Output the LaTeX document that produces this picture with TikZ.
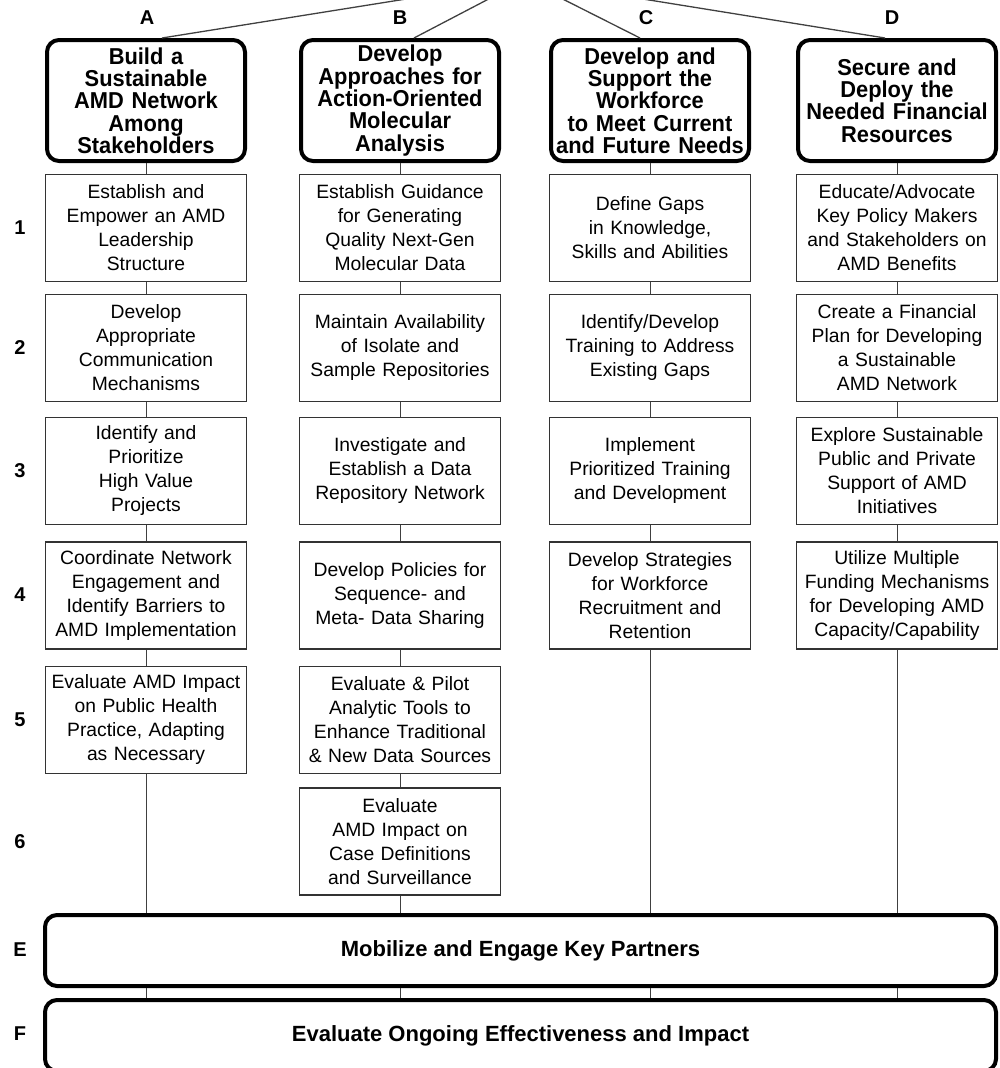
\documentclass[tikz,border=0pt]{standalone}
\usepackage{fontspec}
\setmainfont{Liberation Sans}
\newfontfamily\headfont{Liberation Sans}[FakeStretch=0.95]
\begin{document}
\begin{tikzpicture}[
		x=1pt, y=-1pt,   % <-- pixel grid, y runs downwards
		goal/.style={draw, rounded corners=12pt, line width=4pt, minimum width=198pt, minimum height=121pt, text width=197pt, align=center, inner sep=0.5pt, font=\headfont\bfseries\fontsize{23}{22.3}\selectfont},
		task/.style={draw=black!80, line width=1.2pt, minimum width=201pt, minimum height=107pt, text width=196pt, align=center, inner sep=2pt, font=\fontsize{19.3}{24}\selectfont},
		band/.style={draw, rounded corners=12pt, line width=4pt, minimum width=951pt, minimum height=71pt, font=\bfseries\fontsize{22}{22}\selectfont},
		tag/.style={font=\bfseries\fontsize{20}{20}\selectfont},
		link/.style={draw=black!75, line width=1pt}
		]
		
		\useasboundingbox (0,0) rectangle (999,1068);
		\clip (0,0) rectangle (999,1068);
		
		\coordinate (top) at (525,-20);
		
		\node[tag] (lA) at (147,18) {A};
		\node[tag] (lB) at (400,18) {B};
		\node[tag] (lC) at (646,18) {C};
		\node[tag] (lD) at (892,18) {D};
		
		\node[tag] (n1) at (20,228) {1};
		\node[tag] (n2) at (20,348) {2};
		\node[tag] (n3) at (20,471) {3};
		\node[tag] (n4) at (20,595) {4};
		\node[tag] (n5) at (20,720) {5};
		\node[tag] (n6) at (20,842) {6};
		\node[tag] (nE) at (20,950) {E};
		\node[tag] (nF) at (20,1034) {F};
		
		\node[goal] (hA) at (146,100.5) {Build a\\Sustainable\\AMD Network\\Among\\Stakeholders};
		\node[goal] (hB) at (400,100.5) {Develop\\Approaches for\\Action-Oriented\\Molecular\\Analysis};
		\node[goal] (hC) at (650,100.5) {Develop and\\Support the\\Workforce\\to Meet Current\\and Future Needs};
		\node[goal] (hD) at (897,100.5) {Secure and\\Deploy the\\Needed Financial\\Resources};
		
		\node[task] (a1) at (146,228) {Establish and\\Empower an AMD\\Leadership\\Structure};
		\node[task] (a2) at (146,348) {Develop\\Appropriate\\Communication\\Mechanisms};
		\node[task] (a3) at (146,471) {Identify and\\Prioritize\\High Value\\Projects};
		\node[task] (a4) at (146,595.5) {Coordinate Network\\Engagement and\\Identify Barriers to\\AMD Implementation};
		\node[task] (a5) at (146,720) {Evaluate AMD Impact\\on Public Health\\Practice, Adapting\\as Necessary};
		
		\node[task] (b1) at (400,228) {Establish Guidance\\for Generating\\Quality Next-Gen\\Molecular Data};
		\node[task] (b2) at (400,348) {Maintain Availability\\of Isolate and\\Sample Repositories};
		\node[task] (b3) at (400,471) {Investigate and\\Establish a Data\\Repository Network};
		\node[task] (b4) at (400,595.5) {Develop Policies for\\Sequence- and\\Meta- Data Sharing};
		\node[task] (b5) at (400,720) {Evaluate \& Pilot\\Analytic Tools to\\Enhance Traditional\\\& New Data Sources};
		\node[task] (b6) at (400,841.5) {Evaluate\\AMD Impact on\\Case Definitions\\and Surveillance};
		
		\node[task] (c1) at (650,228) {Define Gaps\\in Knowledge,\\Skills and Abilities};
		\node[task] (c2) at (650,348) {Identify/Develop\\Training to Address\\Existing Gaps};
		\node[task] (c3) at (650,471) {Implement\\Prioritized Training\\and Development};
		\node[task] (c4) at (650,595.5) {Develop Strategies\\for Workforce\\Recruitment and\\Retention};
		
		\node[task] (d1) at (897,228) {Educate/Advocate\\Key Policy Makers\\and Stakeholders on\\AMD Benefits};
		\node[task] (d2) at (897,348) {Create a Financial\\Plan for Developing\\a Sustainable\\AMD Network};
		\node[task] (d3) at (897,471) {Explore Sustainable\\Public and Private\\Support of AMD\\Initiatives};
		\node[task] (d4) at (897,595.5) {Utilize Multiple\\Funding Mechanisms\\for Developing AMD\\Capacity/Capability};
		
		\node[band] (bE) at (520.5,950.5) {Mobilize and Engage Key Partners};
		\node[band] (bF) at (520.5,1035.5) {Evaluate Ongoing Effectiveness and Impact};
		
		\draw[link, line width=1.3pt] (top) -- ([xshift=16pt]hA.north)
		(top) -- ([xshift=14pt]hB.north)
		(top) -- ([xshift=-10pt]hC.north)
		(top) -- ([xshift=-12pt]hD.north);
		
		\draw[link] (hA) -- (a1) (a1) -- (a2) (a2) -- (a3) (a3) -- (a4) (a4) -- (a5)
		(a5) -- (a5 |- bE.north);
		\draw[link] (hB) -- (b1) (b1) -- (b2) (b2) -- (b3) (b3) -- (b4) (b4) -- (b5) (b5) -- (b6)
		(b6) -- (b6 |- bE.north);
		\draw[link] (hC) -- (c1) (c1) -- (c2) (c2) -- (c3) (c3) -- (c4)
		(c4) -- (c4 |- bE.north);
		\draw[link] (hD) -- (d1) (d1) -- (d2) (d2) -- (d3) (d3) -- (d4)
		(d4) -- (d4 |- bE.north);
		
		\draw[link] (bE.south -| a5) -- (bF.north -| a5)
		(bE.south -| b6) -- (bF.north -| b6)
		(bE.south -| c4) -- (bF.north -| c4)
		(bE.south -| d4) -- (bF.north -| d4);
		
	\end{tikzpicture}
\end{document}
